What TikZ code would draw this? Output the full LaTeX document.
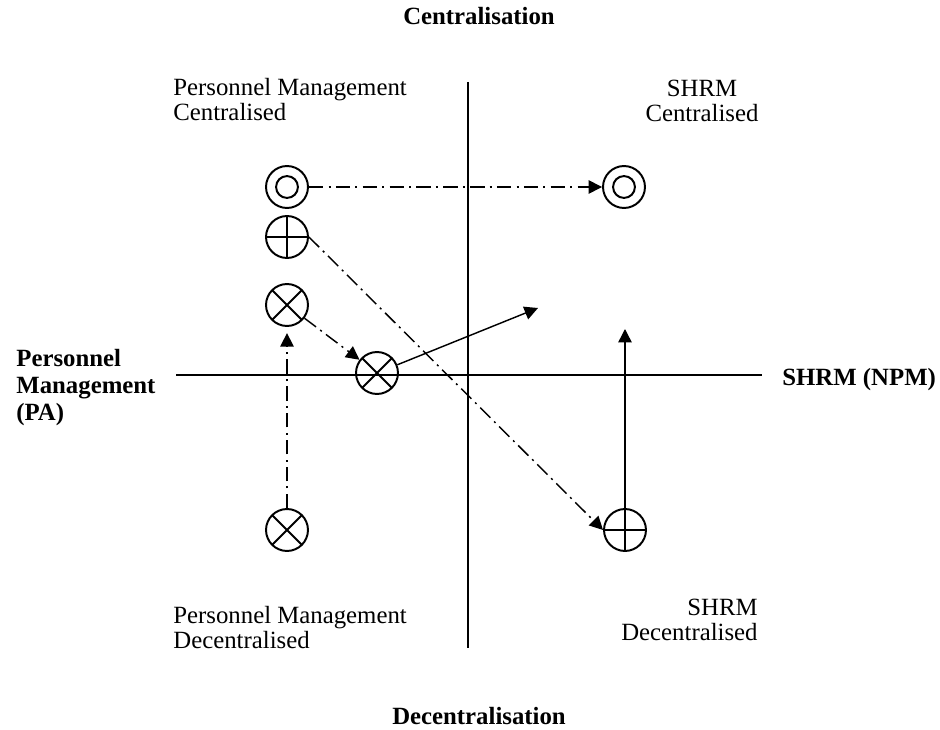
\documentclass[tikz,border=0pt]{standalone}
\usepackage{fontspec}
\setmainfont{Liberation Serif}
\usepackage{tikz}
\usetikzlibrary{arrows.meta,calc}

\tikzset{
  symbol/.style={circle,draw,line width=0.95pt,minimum size=20.3pt,inner sep=0pt},
  ringnode/.style={symbol,path picture={\draw[line width=0.95pt] (path picture bounding box.center) circle (5.3pt);}},
  plusnode/.style={symbol,path picture={\draw[line width=0.95pt]
    (path picture bounding box.north) -- (path picture bounding box.south)
    (path picture bounding box.west) -- (path picture bounding box.east);}},
  crossnode/.style={symbol,path picture={\draw[line width=0.95pt]
    (path picture bounding box.north west) -- (path picture bounding box.south east)
    (path picture bounding box.north east) -- (path picture bounding box.south west);}},
  dashdot/.style={-{Triangle[length=6.5pt,width=6.5pt]},line width=0.7pt,
    dash pattern=on 7pt off 2.5pt on 1pt off 2.5pt},
  solidarrow/.style={-{Triangle[length=6.5pt,width=6.5pt]},line width=0.7pt},
  axisline/.style={line width=0.9pt},
  plainlabel/.style={inner sep=0pt,font=\fontsize{12pt}{12pt}\selectfont},
  boldlabel/.style={inner sep=0pt,font=\fontsize{12pt}{13pt}\selectfont\bfseries}
}

\begin{document}
\begin{tikzpicture}[x=0.017021cm,y=-0.017021cm]
    \useasboundingbox (0,0) rectangle (940,730);
    % the two axes
    \coordinate (axisW) at (176,375);
    \coordinate (axisE) at (762,375);
    \coordinate (axisN) at (468,82);
    \coordinate (axisS) at (468,648);
    \draw[axisline] (axisW) -- (axisE);
    \draw[axisline] (axisN) -- (axisS);

    % symbols
    \node[ringnode] (ringPM) at (287,187) {};
    \node[ringnode] (ringSHRM) at (624,187) {};
    \node[plusnode] (plusPM) at (287,237) {};
    \node[plusnode] (plusSHRM) at (625,530) {};
    \node[crossnode] (crossPM) at (287,305) {};
    \node[crossnode] (crossAxis) at (377,373) {};
    \node[crossnode] (crossDec) at (287,530) {};
    \coordinate (moveEnd) at (538,308);
    \coordinate (riseEnd) at (625,329);

    % shifts
    \draw[dashdot] (ringPM) -- (ringSHRM);
    \draw[dashdot] (plusPM.east) -- (plusSHRM.west);
    \draw[dashdot] (crossPM) -- (crossAxis);
    \draw[dashdot,shorten >=3pt] (crossDec) -- (crossPM);
    \draw[solidarrow] (crossAxis) -- (moveEnd);
    \draw[solidarrow] (plusSHRM) -- (riseEnd);

    % quadrant labels
    \node[plainlabel,anchor=north west,align=left] (pmCent) at (173,78) {Personnel Management\\Centralised};
    \node[plainlabel,anchor=north,align=center] (shrmCent) at (702,80) {SHRM\\Centralised};
    \node[plainlabel,anchor=north west,align=left] (pmDec) at (173,606) {Personnel Management\\Decentralised};
    \node[plainlabel,anchor=north east,align=right] (shrmDec) at (758,599) {SHRM\\Decentralised};

    % axis labels
    \node[boldlabel,anchor=north west,align=left] (pmAxis) at (16,349) {Personnel\\Management\\(PA)};
    \node[boldlabel,anchor=base west] (shrmAxis) at (782,386) {SHRM (NPM)};
    \node[boldlabel,anchor=north] (centTitle) at (479,7) {Centralisation};
    \node[boldlabel,anchor=north] (decTitle) at (479,707) {Decentralisation};
\end{tikzpicture}
\end{document}
